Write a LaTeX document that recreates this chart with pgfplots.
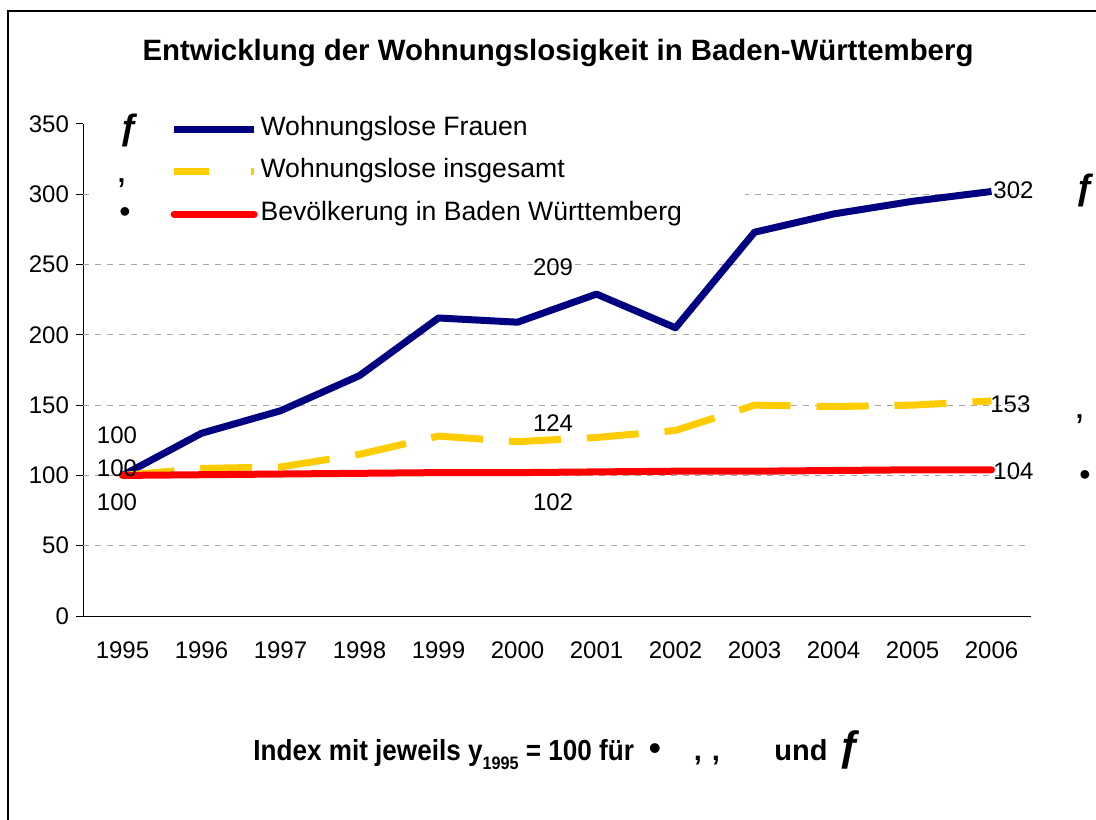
\documentclass[border=0pt]{standalone}
\usepackage{pgfplots}
\pgfplotsset{compat=1.18}
\usepackage{fontspec}
\setmainfont{Liberation Sans}
\definecolor{navyb}{RGB}{0,0,128}
\definecolor{goldy}{RGB}{255,204,0}
\definecolor{redl}{RGB}{255,0,0}
\newcommand{\tfont}{\fontsize{12}{14}\selectfont}
\newcommand{\lfont}{\fontsize{13.3}{15}\selectfont}
\begin{document}
\begin{tikzpicture}
\path[use as bounding box, clip] (0,0) rectangle (548pt,409.5pt);
\draw[line width=1pt] (4pt,-20pt) -- (4pt,404pt) -- (600pt,404pt);
\node[font=\fontsize{14.7}{17}\selectfont\bfseries] at (279pt,383pt) {Entwicklung der Wohnungslosigkeit in Baden-Württemberg};
\begin{axis}[
  at={(41.5pt,101.5pt)}, anchor=south west,
  scale only axis, width=474pt, height=246pt,
  xmin=-0.5, xmax=11.5, ymin=0, ymax=350,
  axis x line*=bottom, axis y line*=left,
  axis line style={black, line width=0.5pt},
  xtick={0,...,11},
  xticklabels={1995,1996,1997,1998,1999,2000,2001,2002,2003,2004,2005,2006},
  xtick style={draw=none},
  minor xtick={-0.5,0.5,...,11.5},
  ytick={0,50,...,350},
  extra y ticks={50,100,...,300},
  extra y tick labels={},
  extra y tick style={grid=major, major tick length=0pt},
  major grid style={gray!70, dash pattern=on 3pt off 3pt, line width=0.4pt},
  tick align=outside,
  major tick length=3.5pt, minor tick length=3.5pt,
  tick style={black, line width=0.5pt},
  tick label style={font=\tfont},
  /pgf/number format/assume math mode=true,
  xticklabel style={yshift=-6pt},
  legend style={at={(axis description cs:0.092,1.0204)}, anchor=north west,
    draw=none, fill=none, inner sep=0pt, row sep=6.25pt, column sep=0pt,
    nodes={inner sep=1.5pt, text height=9pt, text depth=3pt}, font=\lfont},
  legend cell align=left,
  legend image code/.code={\draw[#1] (0pt,0pt) -- (40pt,0pt);},
  clip=false,
]
\fill[white] (axis cs:-0.41,290) rectangle (axis cs:7.88,310);
\addplot[navyb, line width=3.5pt, line join=round] coordinates {
(0,100) (1,130) (2,146) (3,171) (4,212) (5,209) (6,229) (7,205) (8,273) (9,286) (10,295) (11,302)};
\addlegendentry{Wohnungslose Frauen}
\addplot[goldy, line width=3.5pt, dash pattern=on 26pt off 13pt,
  legend image post style={dash pattern=on 17.5pt off 21pt}] coordinates {
(0,100) (1,105) (2,106) (3,115) (4,128) (5,124) (6,127) (7,132) (8,150) (9,149) (10,150) (11,153)};
\addlegendentry{Wohnungslose insgesamt}
\addplot[redl, line width=3.5pt, line cap=round] coordinates {
(0,100) (1,100.5) (2,101) (3,101.5) (4,102) (5,102) (6,102.5) (7,103) (8,103) (9,103.5) (10,104) (11,104)};
\addlegendentry{Bevölkerung in Baden Württemberg}
\node[font=\tfont] at (axis cs:-0.07,128.8) {100};
\node[font=\tfont] at (axis cs:-0.07,105.3) {100};
\node[font=\tfont] at (axis cs:-0.07,81.1) {100};
\node[font=\tfont] at (axis cs:5.45,248.3) {209};
\node[font=\tfont] at (axis cs:5.45,137.3) {124};
\node[font=\tfont] at (axis cs:5.45,81.1) {102};
\node[font=\tfont, anchor=west, inner sep=0pt] at (axis cs:11.02,303) {302};
\node[font=\tfont, anchor=west, inner sep=0pt] at (axis cs:10.98,150.8) {153};
\node[font=\tfont, anchor=west, inner sep=0pt] at (axis cs:11.02,103.2) {104};
\end{axis}
% stray symbols of the legend and of the labels
\node[font=\fontsize{18}{20}\selectfont\bfseries] at (65pt,344.5pt) {ƒ};
\node[font=\fontsize{20}{22}\selectfont] at (61pt,318pt) {‚};
\node[font=\fontsize{16}{18}\selectfont] at (62.5pt,302pt) {•};
\node[font=\fontsize{18}{20}\selectfont\bfseries] at (542.5pt,314.5pt) {ƒ};
\node[font=\fontsize{20}{22}\selectfont] at (540pt,200pt) {‚};
\node[font=\fontsize{16}{18}\selectfont] at (542.5pt,170.5pt) {•};
% note below the chart
\node[anchor=base west, inner sep=0pt, font=\fontsize{14.5}{17}\selectfont\bfseries] at (126.5pt,29.5pt)
  {\scalebox{0.9}[1]{Index mit jeweils y\raisebox{-4.5pt}{\fontsize{9}{10}\selectfont 1995} = 100 für}};
\node[anchor=base, inner sep=0pt, font=\fontsize{18}{18}\selectfont] at (327.5pt,29.5pt) {•};
\node[anchor=base, inner sep=0pt, font=\fontsize{14.5}{17}\selectfont\bfseries] at (349pt,29.5pt) {,};
\node[anchor=base, inner sep=0pt, font=\fontsize{14.5}{17}\selectfont\bfseries] at (358pt,29.5pt) {,};
\node[anchor=base west, inner sep=0pt, font=\fontsize{14.5}{17}\selectfont\bfseries] at (387pt,29.5pt) {und};
\node[anchor=base west, inner sep=0pt, font=\fontsize{21}{22}\selectfont\bfseries] at (419pt,29.5pt) {ƒ};
\end{tikzpicture}
\end{document}
